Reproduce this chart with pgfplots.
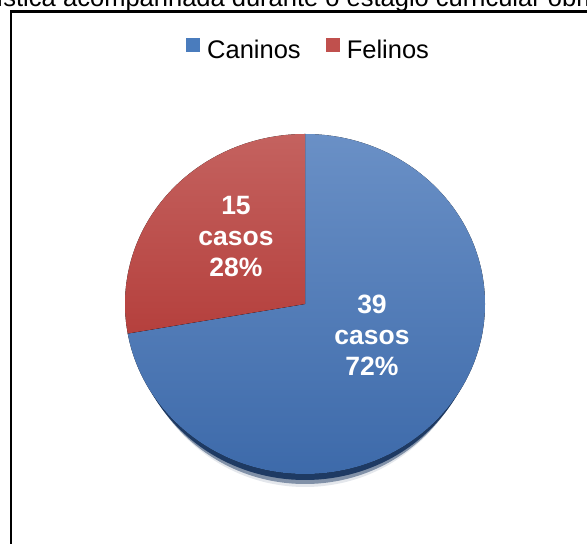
\documentclass[border=0pt]{standalone}
\usepackage{fontspec}
\setmainfont{Liberation Sans}
\usepackage{pgfplots}
\pgfplotsset{compat=1.18}
\usepackage{pgfplotstable}
\definecolor{cantop}{HTML}{6A90C6}
\definecolor{canbot}{HTML}{3D6AAA}
\definecolor{feltop}{HTML}{C4625F}
\definecolor{felbot}{HTML}{B5403D}
\definecolor{canleg}{HTML}{4A7CBD}
\definecolor{felleg}{HTML}{C0504D}
\definecolor{shadowc}{HTML}{1E3A63}

\pgfplotstableread{
label value
Caninos 39
Felinos 15
}\piedata

\begin{document}
\begin{tikzpicture}[x=1pt,y=1pt]
\useasboundingbox (0,0) rectangle (587,544);
\clip (0,0) rectangle (587,544);
\pgfplotstablegetelem{0}{value}\of\piedata \xdef\vA{\pgfplotsretval}
\pgfplotstablegetelem{1}{value}\of\piedata \xdef\vB{\pgfplotsretval}
\pgfmathsetmacro\angA{360*\vA/(\vA+\vB)}
\pgfmathsetmacro\endA{90-\angA}
\pgfmathsetmacro\endB{450-\angA}
\pgfmathtruncatemacro\pA{round(100*\vA/(\vA+\vB))}
\pgfmathtruncatemacro\pB{round(100*\vB/(\vA+\vB))}
% title (cut off in the reference)
\node[anchor=base west, inner sep=0pt, font=\fontsize{25.5}{30}\selectfont] at (63,537.5) {acompanhada durante o estágio curricular obrigatório};
\node[anchor=base east, inner sep=0pt, font=\fontsize{25.5}{30}\selectfont] at (56,537.5) {Casuística};
% frame
\draw[line width=2.5pt] (11,-20) -- (11,532.3) -- (640,532.3);
\begin{axis}[at={(0,0)}, anchor=south west, scale only axis,
  width=587pt, height=544pt, xmin=0, xmax=587, ymin=0, ymax=544,
  hide axis, clip=false, legend columns=2,
  legend style={at={(axis cs:186,495)}, anchor=west, draw=none, fill=none,
    inner sep=0pt, font=\fontsize{25.5}{30}\selectfont, nodes={inner sep=0pt},
    /tikz/every odd column/.append style={column sep=7pt},
    /tikz/every even column/.append style={column sep=25pt}},
  legend image code/.code={\fill[draw=none,#1] (0pt,-2pt) rectangle (14pt,12pt);}]
\addlegendimage{fill=canleg, draw=none}
\addlegendentry{Caninos}
\addlegendimage{fill=felleg, draw=none}
\addlegendentry{Felinos}
% shadow
\fill[shadowc, opacity=0.12] (axis cs:305,229) ellipse [x radius=170pt, y radius=172pt];
\fill[shadowc, opacity=0.5] (axis cs:305,230) ellipse [x radius=172pt, y radius=170pt];
\fill[shadowc] (axis cs:305,232) ellipse [x radius=175pt, y radius=168pt];
% wedges
\fill[top color=cantop, bottom color=canbot] (axis cs:305,240) -- (axis cs:305,410) arc[start angle=90, end angle=\endA, x radius=180pt, y radius=170pt] -- cycle;
\fill[top color=feltop, bottom color=felbot] (axis cs:305,240) -- (axis cs:305,410) arc[start angle=90, end angle=\endB, x radius=180pt, y radius=170pt] -- cycle;
% data labels
\node[white, font=\bfseries\fontsize{26.5}{31}\selectfont, align=center] at (axis cs:372,209) {\vA\\casos\\\pA\%};
\node[white, font=\bfseries\fontsize{26.5}{31}\selectfont, align=center] at (axis cs:236,307) {\vB\\casos\\\pB\%};
\end{axis}
\end{tikzpicture}
\end{document}
